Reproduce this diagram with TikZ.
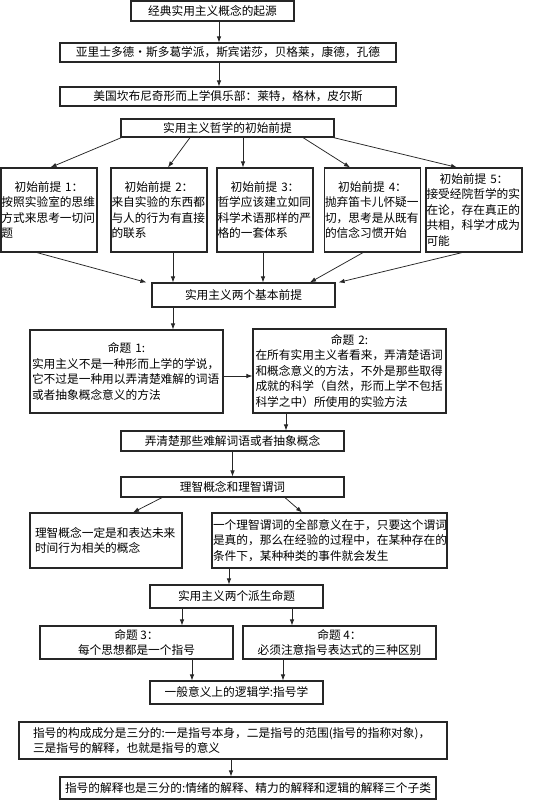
\documentclass[tikz,border=0pt]{standalone}
\usepackage{fontspec}
\newfontfamily\cjk{Noto Sans CJK SC}
\usetikzlibrary{arrows.meta}
\begin{document}
\begin{tikzpicture}[x=1pt,y=1pt,
 bx/.style={draw=black!85, line width=1.2pt, inner sep=0pt, font=\cjk\fontsize{11.7}{15.5}\selectfont},
 para/.style={align=left},
 arr/.style={draw=black!85, line width=0.75pt, -{Latex[length=6pt,width=4.5pt]}}]
\useasboundingbox (0,0) rectangle (548,-801);
\fill[white] (0,0) rectangle (548,-801);

\node[bx, minimum width=163pt, minimum height=20pt] (top) at (212.5,-11) {经典实用主义概念的起源};
\node[bx, minimum width=336pt, minimum height=19pt] (b2) at (228,-52.5) {亚里士多德·斯多葛学派，斯宾诺莎，贝格莱，康德，孔德};
\node[bx, minimum width=336pt, minimum height=19pt] (b3) at (228,-96.5) {美国坎布尼奇形而上学俱乐部：莱特，格林，皮尔斯};
\node[bx, minimum width=213pt, minimum height=18pt] (b4) at (227.5,-128) {实用主义哲学的初始前提};

\tikzset{prem/.style={bx, para, inner xsep=0.5pt, text width=95pt, minimum height=84pt}}
\node[prem] (p1) at (49,-210) {\makebox[\linewidth]{初始前提 1：}\\按照实验室的思维\\方式来思考一切问\\题};
\node[prem] (p2) at (159,-210) {\makebox[\linewidth]{初始前提 2：}\\来自实验的东西都\\与人的行为有直接\\的联系};
\node[prem] (p3) at (265,-210) {\makebox[\linewidth]{初始前提 3：}\\哲学应该建立如同\\科学术语那样的严\\格的一套体系};
\node[prem] (p4) at (372.5,-210) {\makebox[\linewidth]{初始前提 4：}\\抛弃笛卡儿怀疑一\\切，思考是从既有\\的信念习惯开始};
\node[prem] (p5) at (474,-210) {\makebox[\linewidth]{初始前提 5：}\\接受经院哲学的实\\在论，存在真正的\\共相，科学才成为\\可能};

\node[bx, minimum width=183pt, minimum height=24pt] (basic) at (243.5,-295) {实用主义两个基本前提};

\node[bx, para, inner xsep=2pt, text width=189pt, minimum height=83pt] (q1) at (126.5,-371.5) {\makebox[\linewidth]{命题 1:}\\实用主义不是一种形而上学的学说，\\它不过是一种用以弄清楚难解的词语\\或者抽象概念意义的方法};
\node[bx, para, inner xsep=2.5pt, text width=188pt, minimum height=84pt] (q2) at (349.5,-371) {\makebox[\linewidth]{命题 2:}\\在所有实用主义者看来，弄清楚语词\\和概念意义的方法，不外是那些取得\\成就的科学（自然，形而上学不包括\\科学之中）所使用的实验方法};

\node[bx, minimum width=223pt, minimum height=20pt] (clar) at (232.5,-441) {弄清楚那些难解词语或者抽象概念};
\node[bx, minimum width=223pt, minimum height=20pt] (reas) at (232.5,-487) {理智概念和理智谓词};

\node[bx, para, inner xsep=5pt, text width=142pt, minimum height=55pt] (lft) at (106,-540.5) {理智概念一定是和表达未来\\时间行为相关的概念};
\node[bx, para, inner xsep=1pt, text width=233pt, minimum height=55pt] (rgt) at (329.5,-540.5) {一个理智谓词的全部意义在于，只要这个谓词\\是真的，那么在经验的过程中，在某种存在的\\条件下，某种种类的事件就会发生};

\node[bx, minimum width=173pt, minimum height=23pt] (der) at (236.5,-596.5) {实用主义两个派生命题};

\node[bx, align=center, minimum width=193pt, minimum height=33pt] (q3) at (136.5,-642.5) {命题 3：\\每个思想都是一个指号};
\node[bx, align=center, minimum width=193pt, minimum height=33pt] (q4) at (339.5,-642.5) {命题 4：\\必须注意指号表达式的三种区别};

\node[bx, minimum width=173pt, minimum height=23pt] (logic) at (236.5,-692.5) {一般意义上的逻辑学:指号学};

\node[bx, para, inner xsep=14pt, text width=400pt, minimum height=37pt] (big) at (233,-740.5) {指号的构成成分是三分的:一是指号本身，二是指号的范围(指号的指称对象)，\\三是指号的解释，也就是指号的意义};
\node[bx, minimum width=376pt, minimum height=22pt] (last) at (248,-788) {指号的解释也是三分的:情绪的解释、精力的解释和逻辑的解释三个子类};

% connectors
\draw[arr] ([xshift=6.5pt]top.south) -- ([xshift=-9pt]b2.north);
\draw[arr] ([xshift=-9pt]b2.south) -- ([xshift=-9pt]b3.north);

\draw[arr] ([xshift=1pt]b4.south west) -- ([xshift=1.5pt]p1.north);
\draw[arr] ([xshift=-37.5pt]b4.south) -- ([xshift=9pt]p2.north);
\draw[arr] ([xshift=15.5pt]b4.south) -- ([xshift=-22pt]p3.north);
\draw[arr] ([xshift=75.5pt]b4.south) -- ([xshift=-22.5pt]p4.north);
\draw[arr] ([xshift=-1pt]b4.south east) -- ([xshift=-17pt]p5.north);

\draw[arr] ([xshift=-12pt]p1.south) -- ([xshift=-5pt]basic.north west);
\draw[arr] ([xshift=14pt]p2.south) -- ([xshift=-70.5pt]basic.north);
\draw[arr] ([xshift=-2pt]p3.south) -- ([xshift=19.5pt]basic.north);
\draw[arr] ([xshift=-9.5pt]p4.south) -- ([xshift=66.5pt]basic.north);
\draw[arr] ([xshift=-12pt]p5.south) -- ([xshift=3pt]basic.north east);

\draw[arr] ([xshift=-70.5pt]basic.south) -- ([xshift=46.5pt]q1.north);
\draw[arr] ([yshift=-4.5pt]q1.east) -- ([yshift=-4.5pt]q1.east -| q2.west);
\draw[arr] ([xshift=-63.5pt]q2.south) -- ([xshift=53.5pt]clar.north);
\draw[arr] (clar.south) -- (reas.north);
\draw[arr] ([xshift=-70.5pt]reas.south) -- ([xshift=27pt]lft.north);
\draw[arr] ([xshift=52.5pt]reas.south) -- ([xshift=-27.5pt]rgt.north);
\draw[arr] ([xshift=-100.5pt]rgt.south) -- ([xshift=-7.5pt]der.north);
\draw[arr] ([xshift=-54.5pt]der.south) -- ([xshift=45.5pt]q3.north);
\draw[arr] ([xshift=55.5pt]der.south) -- ([xshift=-47.5pt]q4.north);
\draw[arr] ([xshift=55.5pt]q3.south) -- ([xshift=-44.5pt]logic.north);
\draw[arr] ([xshift=-56.5pt]q4.south) -- ([xshift=46.5pt]logic.north);
\draw[arr] ([xshift=-2pt]big.south) -- ([xshift=-17pt]last.north);
\end{tikzpicture}
\end{document}
